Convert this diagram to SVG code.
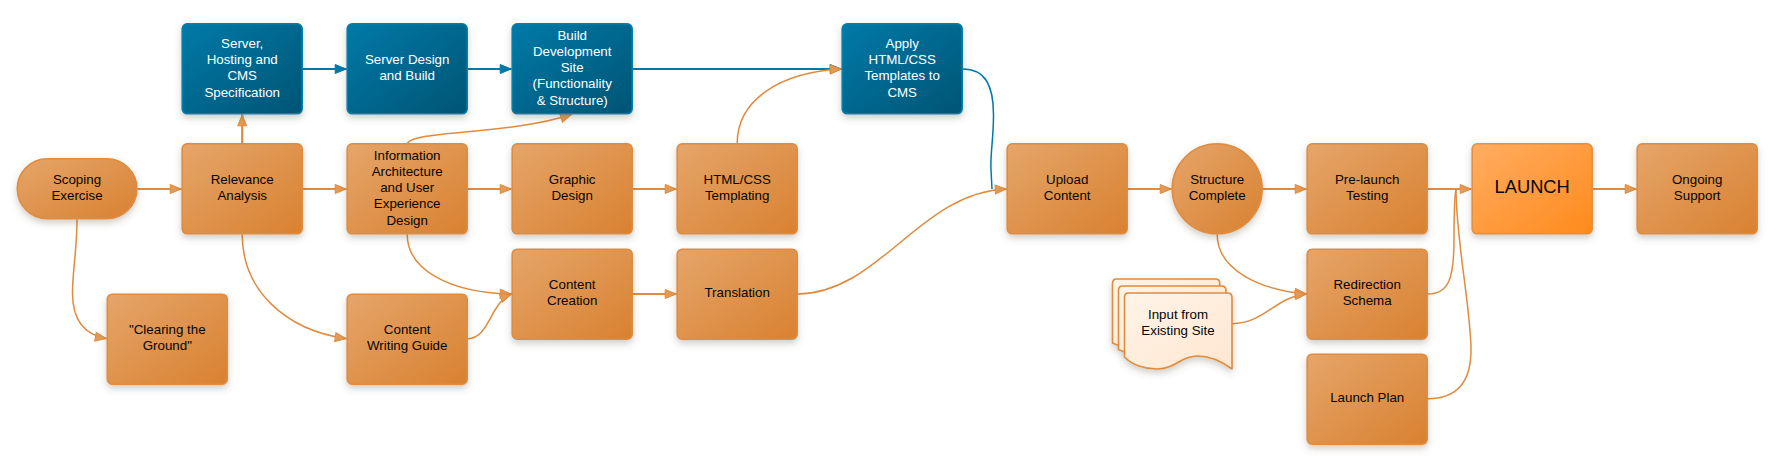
<svg xmlns="http://www.w3.org/2000/svg" width="1788" height="466" viewBox="0 0 1788 466">
  <style>
    text { font-family: "Liberation Sans", Arial, sans-serif; font-size: 13.33px; text-anchor: middle; fill: #050505; }
    .box { stroke-width: 1.6; filter: url(#shadow); }
    .orange { fill: url(#orangeFill); stroke: #e08b3e; }
    .blue { fill: url(#blueFill); stroke: #0280ad; }
    .blue-t text { fill: #ffffff; }
    .launch { fill: url(#launchFill); stroke: #e58f40; }
    .doc { fill: url(#docFill); stroke: #e08b3e; stroke-width: 1.6; stroke-linejoin: round; }
    .big { font-size: 18.3px; }
    .c { fill: none; }
    .co { stroke: #e08b3e; marker-end: url(#headOrange); }
    .cb { stroke: #0079a8; marker-end: url(#headBlue); }
    .s { stroke-width: 2.2; }
    .k { stroke-width: 1.5; }
  </style>
  <defs>
    <linearGradient id="orangeFill" x1="0" y1="0" x2="1" y2="1">
      <stop offset="0" stop-color="#e5a56a"/>
      <stop offset="1" stop-color="#d98130"/>
    </linearGradient>
    <linearGradient id="blueFill" x1="0" y1="0" x2="1" y2="1">
      <stop offset="0" stop-color="#007aa8"/>
      <stop offset="1" stop-color="#005474"/>
    </linearGradient>
    <linearGradient id="launchFill" x1="0" y1="0" x2="1" y2="1">
      <stop offset="0" stop-color="#ffad62"/>
      <stop offset="1" stop-color="#ff8a1c"/>
    </linearGradient>
    <linearGradient id="docFill" x1="0" y1="0" x2="1" y2="1">
      <stop offset="0" stop-color="#fff4e9"/>
      <stop offset="1" stop-color="#ffe6cf"/>
    </linearGradient>
    <filter id="shadow" x="-20%" y="-20%" width="140%" height="145%">
      <feDropShadow dx="0" dy="3.500" stdDeviation="3.500" flood-color="#5a4a3a" flood-opacity="0.28"/>
    </filter>
    <marker id="headOrange" markerUnits="userSpaceOnUse" markerWidth="15" markerHeight="13" refX="13" refY="6.500" orient="auto">
      <path d="M1.500 2 L12.500 6.500 L1.500 11 Z" fill="#e59a54" stroke="#e08b3e" stroke-width="1"/>
    </marker>
    <marker id="headBlue" markerUnits="userSpaceOnUse" markerWidth="15" markerHeight="13" refX="13" refY="6.500" orient="auto">
      <path d="M1.500 2 L12.500 6.500 L1.500 11 Z" fill="#0079a8" stroke="#0079a8" stroke-width="1"/>
    </marker>
  </defs>

  <g id="connectors">
    <path class="c cb s" d="M302.7 69H346.7"/>
    <path class="c cb s" d="M467.7 69H511.7"/>
    <path class="c cb s" d="M632.7 69H841.7"/>
    <path class="c k" stroke="#0079a8" d="M962.7 69C985 69 993.5 85 993.5 115C993.5 140 990 155 991 170L992 189"/>
    <path class="c co s" d="M137.4 189H181.7"/>
    <path class="c co s" d="M242.2 143.3V114.3"/>
    <path class="c co s" d="M302.7 189H346.7"/>
    <path class="c co s" d="M467.7 189H511.7"/>
    <path class="c co s" d="M632.7 189H676.7"/>
    <path class="c co s" d="M632.7 294H676.7"/>
    <path class="c co s" d="M1127.7 189H1171.7"/>
    <path class="c co s" d="M1262.7 189H1306.7"/>
    <path class="c co s" d="M1427.7 189H1471.7"/>
    <path class="c co s" d="M1592.7 189H1636.7"/>
    <path class="c co k" d="M77 219.3C77 250 72.5 270 72.5 293C72.5 320 85 335 106.8 338.7"/>
    <path class="c co k" d="M242.2 234.3C242.2 290 285 330 346.7 338.7"/>
    <path class="c co k" d="M407.2 234.3C407.2 270 450 293 511.7 294"/>
    <path class="c co k" d="M467.7 338.7C490 338 490 302 511.7 294"/>
    <path class="c co k" d="M407.2 143.3C415 130 510 135 572 114.3"/>
    <path class="c co k" d="M737.2 143.3C737.2 100 780 72 841.7 69"/>
    <path class="c co k" d="M797.7 294C880 293 920 192 1006.7 189"/>
    <path class="c co k" d="M1217.2 234.3C1217.2 270 1260 290 1306.7 294"/>
    <path class="c co k" d="M1232.3 323.7C1265 323 1275 297 1306.7 294"/>
    <path class="c k" stroke="#e08b3e" d="M1427.7 294C1448 294 1454 280 1454 240C1454 215 1454 200 1456 189"/>
    <path class="c k" stroke="#e08b3e" d="M1427.7 398.7C1458 398.7 1471 380 1471 350C1471 310 1456 240 1456 189"/>
  </g>

  <g id="scoping"><rect class="box orange" x="17.3" y="158.800" width="119.600" height="60" rx="30" ry="30"/><text x="77" y="184">Scoping</text><text x="77" y="200">Exercise</text></g>
  <g id="relevance"><rect class="box orange" x="182.200" y="143.800" width="120" height="90" rx="5"/><text x="242.2" y="184">Relevance</text><text x="242.2" y="200">Analysis</text></g>
  <g id="server-spec" class="blue-t"><rect class="box blue" x="182.200" y="23.800" width="120" height="90" rx="5"/><text x="242.2" y="48">Server,</text><text x="242.2" y="64">Hosting and</text><text x="242.2" y="80">CMS</text><text x="242.2" y="96.500">Specification</text></g>
  <g id="server-build" class="blue-t"><rect class="box blue" x="347.200" y="23.800" width="120" height="90" rx="5"/><text x="407.2" y="64">Server Design</text><text x="407.2" y="80">and Build</text></g>
  <g id="build-site" class="blue-t"><rect class="box blue" x="512.200" y="23.800" width="120" height="90" rx="5"/><text x="572.2" y="39.500">Build</text><text x="572.2" y="55.700">Development</text><text x="572.2" y="72">Site</text><text x="572.2" y="88">(Functionality</text><text x="572.2" y="104.500">&amp; Structure)</text></g>
  <g id="apply-templates" class="blue-t"><rect class="box blue" x="842.200" y="23.800" width="120" height="90" rx="5"/><text x="902.2" y="48">Apply</text><text x="902.2" y="64">HTML/CSS</text><text x="902.2" y="80">Templates to</text><text x="902.2" y="96.500">CMS</text></g>
  <g id="ia-design"><rect class="box orange" x="347.200" y="143.800" width="120" height="90" rx="5"/><text x="407.2" y="159.500">Information</text><text x="407.2" y="175.700">Architecture</text><text x="407.2" y="192">and User</text><text x="407.2" y="208">Experience</text><text x="407.2" y="224.500">Design</text></g>
  <g id="graphic-design"><rect class="box orange" x="512.200" y="143.800" width="120" height="90" rx="5"/><text x="572.2" y="184">Graphic</text><text x="572.2" y="200">Design</text></g>
  <g id="templating"><rect class="box orange" x="677.200" y="143.800" width="120" height="90" rx="5"/><text x="737.2" y="184">HTML/CSS</text><text x="737.2" y="200">Templating</text></g>
  <g id="upload"><rect class="box orange" x="1007.200" y="143.800" width="120" height="90" rx="5"/><text x="1067.2" y="184">Upload</text><text x="1067.2" y="200">Content</text></g>
  <g id="structure"><circle class="box orange" cx="1217.2" cy="188.800" r="45"/><text x="1217.2" y="184">Structure</text><text x="1217.2" y="200">Complete</text></g>
  <g id="prelaunch"><rect class="box orange" x="1307.200" y="143.800" width="120" height="90" rx="5"/><text x="1367.2" y="184">Pre-launch</text><text x="1367.2" y="200">Testing</text></g>
  <g id="launch"><rect class="box launch" x="1472.200" y="143.800" width="120" height="90" rx="5"/><text class="big" x="1532.2" y="193">LAUNCH</text></g>
  <g id="support"><rect class="box orange" x="1637.200" y="143.800" width="120" height="90" rx="5"/><text x="1697.2" y="184">Ongoing</text><text x="1697.2" y="200">Support</text></g>
  <g id="clearing"><rect class="box orange" x="107.300" y="294.200" width="120" height="90" rx="5"/><text x="167.3" y="334">"Clearing the</text><text x="167.3" y="350">Ground"</text></g>
  <g id="writing-guide"><rect class="box orange" x="347.200" y="294.200" width="120" height="90" rx="5"/><text x="407.2" y="334">Content</text><text x="407.2" y="350">Writing Guide</text></g>
  <g id="content-creation"><rect class="box orange" x="512.200" y="249.200" width="120" height="90" rx="5"/><text x="572.2" y="289">Content</text><text x="572.2" y="305">Creation</text></g>
  <g id="translation"><rect class="box orange" x="677.200" y="249.200" width="120" height="90" rx="5"/><text x="737.2" y="297">Translation</text></g>
  <g id="redirection"><rect class="box orange" x="1307.200" y="249.200" width="120" height="90" rx="5"/><text x="1367.2" y="289">Redirection</text><text x="1367.2" y="305">Schema</text></g>
  <g id="launch-plan"><rect class="box orange" x="1307.200" y="354.200" width="120" height="90" rx="5"/><text x="1367.2" y="402">Launch Plan</text></g>
  <g id="existing-site">
    <g filter="url(#shadow)">
      <!-- stacked sheets: the two rear ones show only their top and left edges -->
      <path class="doc" d="M1116.500 279H1215.500Q1219.700 279 1219.700 283.500V320H1130V350L1112.500 343V283.500Q1112.500 279 1116.500 279Z"/>
      <path class="doc" d="M1122.500 286H1221.500Q1226 286 1226 290.500V320H1136V357L1118.500 349.500V290.500Q1118.500 286 1122.500 286Z"/>
      <path class="doc" d="M1128.500 293H1227.500Q1232 293 1232 297.500V369C1220 360 1208 356 1197 356C1180 356 1176 369 1157 369C1145 369 1132 365 1124.500 357V297.500Q1124.500 293 1128.500 293Z"/>
    </g>
    <text x="1178" y="319">Input from</text><text x="1178" y="335">Existing Site</text>
  </g>
</svg>
